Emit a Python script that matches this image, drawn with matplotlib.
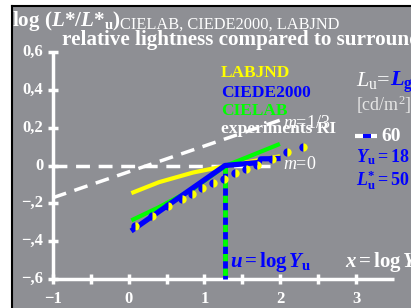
import numpy as np
import matplotlib
matplotlib.use('Agg')
import matplotlib.pyplot as plt

plt.rcParams['font.family'] = 'Liberation Serif'
plt.rcParams['mathtext.fontset'] = 'custom'
plt.rcParams['mathtext.rm'] = 'Liberation Serif'
plt.rcParams['mathtext.it'] = 'Liberation Serif:italic'
plt.rcParams['mathtext.bf'] = 'Liberation Serif:bold'
plt.rcParams['mathtext.bfit'] = 'Liberation Serif:italic:bold'

W, H = 411, 308
grey = '#8e8f94'
yel = '#ffff00'
blu = '#0000ff'
grn = '#00ff00'

# data
x_ticks = [-1, -0.5, 0, 0.5, 1, 1.5, 2, 2.5, 3]
x_labels = ['\u22121', '0', '1', '2', '3']
x_label_pos = [-1, 0, 1, 2, 3]
y_ticks = [-0.6, -0.4, -0.2, 0, 0.2, 0.4, 0.6]
y_labels = ['\u2212,6', '\u2212,4', '\u2212,2', '0', '0,2', '0,4', '0,6']

u_adapt = 1.27  # log Yu

x_labjnd = [0.06, 0.4, 0.85, 1.27, 1.6, 1.97]
y_labjnd = [-0.142, -0.088, -0.037, -0.003, 0.02, 0.047]

x_cielab = [0.06, 0.39, 0.84, 1.27, 1.6, 1.97]
y_cielab = [-0.285, -0.222, -0.127, -0.003, 0.05, 0.11]

x_ciede = [0.06, 1.27, 1.72, 1.74, 1.97]
y_ciede = [-0.338, 0.0, 0.016, 0.035, 0.037]

x_exp = [0.083, 0.307, 0.518, 0.703, 0.835, 0.967, 1.112, 1.257, 1.403, 1.548, 1.693, 1.891, 2.089, 2.300]
y_exp = [-0.322, -0.269, -0.216, -0.179, -0.148, -0.121, -0.090, -0.069, -0.042, -0.021, 0.005, 0.037, 0.069, 0.100]

x_m0 = [-1, 1.9]
y_m0 = [0, 0]
x_m13 = [-1, 2.0]
y_m13 = [-0.17, 0.24]

fig = plt.figure(figsize=(W / 100, H / 100), dpi=100)
fig.patch.set_facecolor('white')
ax = fig.add_axes([12 / W, 0, (W - 12) / W, (H - 6) / H])
ax.set_facecolor(grey)
ax.set_xlim(-1.541, 3.726)
ax.set_ylim(-0.753, 0.843)
ax.set_xticks([])
ax.set_yticks([])
for s in ['right', 'bottom']:
    ax.spines[s].set_visible(False)
for s in ['left', 'top']:
    ax.spines[s].set_color('black')
    ax.spines[s].set_linewidth(1.5)

# axes
ax.plot([-1, 3.5], [-0.6, -0.6], color='white', lw=2.5, solid_capstyle='butt')
ax.plot([-1, -1], [-0.6, 0.6], color='white', lw=2.5, solid_capstyle='butt')
for t in x_ticks:
    ax.plot([t, t], [-0.627, -0.573], color='white', lw=2.5, solid_capstyle='butt')
for t in y_ticks:
    ax.plot([-1.07, -0.93], [t, t], color='white', lw=2.5, solid_capstyle='butt')
for t, lab in zip(x_label_pos, x_labels):
    ax.text(t, -0.665, lab, color='white', fontsize=12, fontweight='bold',
            ha='center', va='top')
for t, lab in zip(y_ticks, y_labels):
    ax.text(-1.13, t, lab, color='white', fontsize=12, fontweight='bold',
            ha='right', va='center')

# reference lines
ax.plot(x_m0, y_m0, color='white', lw=2.5, dashes=(4, 2.5))
ax.plot(x_m13, y_m13, color='white', lw=2.5, dashes=(4, 2.5))

# vertical line at u
ax.plot([u_adapt, u_adapt], [0, -0.6], color=blu, lw=3.5, solid_capstyle='butt')
ax.plot([u_adapt, u_adapt], [0, -0.6], color=grn, lw=3.5, dashes=(1.5, 1.5))

ax.plot(x_labjnd, y_labjnd, color=yel, lw=3)
ax.plot(x_cielab, y_cielab, color=grn, lw=3)
ax.plot(x_ciede, y_ciede, color=blu, lw=3.8)
ax.plot(x_exp, y_exp, ls='none', marker='o', ms=6, mec='none',
        fillstyle='left', mfc=blu, mfcalt=yel)


def px(x, y):
    return x / W, 1 - y / H


# titles
fig.text(*px(12, 26), r'$\mathbf{log\ (}\mathbfit{L}\mathbf{*/}\mathbfit{L}\mathbf{*}_{\mathbf{u}}\mathbf{)}$',
         color='white', fontsize=15.2, ha='left', va='baseline')
fig.text(*px(120, 29), 'CIELAB, CIEDE2000, LABJND', color='white', fontsize=11.8,
         ha='left', va='baseline')
fig.text(*px(62, 45), 'relative lightness compared to surround', color='white',
         fontsize=15.2, fontweight='bold', ha='left', va='baseline')

# legend labels
fig.text(*px(221, 77), 'LABJND', color=yel, fontsize=12.5, fontweight='bold', va='baseline')
fig.text(*px(221, 97), 'CIEDE2000', color=blu, fontsize=12.5, fontweight='bold', va='baseline')
fig.text(*px(221, 115), 'CIELAB', color=grn, fontsize=12.5, fontweight='bold', va='baseline')
fig.text(*px(221, 133), 'experiments RI', color='white', fontsize=12.5, fontweight='bold', va='baseline')
fig.text(*px(283, 128), r'$\mathit{m}$=1/3', color='white', fontsize=13, va='baseline')
fig.text(*px(283, 169), r'$\mathit{m}$=0', color='white', fontsize=13, va='baseline')

# right side
fig.text(*px(356, 86), r'$\mathit{L}_{\mathrm{u}}$=', color='white', fontsize=16, va='baseline')
fig.text(*px(390, 86), r'$\mathbfit{L}_{\mathbf{g}}$', color=blu, fontsize=16, va='baseline')
fig.text(*px(356, 111), r'[cd/m$^2$]', color='#e6e6e6', fontsize=13, va='baseline')
fig.lines.append(plt.Line2D([355 / W, 377 / W], [1 - 136 / H] * 2, transform=fig.transFigure,
                            color='white', lw=3, solid_capstyle='butt'))
fig.lines.append(plt.Line2D([363 / W, 371 / W], [1 - 136 / H] * 2, transform=fig.transFigure,
                            color=blu, lw=3, solid_capstyle='butt'))
fig.text(*px(381, 141), '60', color='white', fontsize=14, fontweight='bold', va='baseline')
fig.text(*px(356, 162), r'$\mathbfit{Y}_{\mathbf{u}}\mathbf{=18}$', color=blu, fontsize=13, va='baseline')
fig.text(*px(356, 186), r'$\mathbfit{L}^{\mathbf{*}}_{\mathbf{u}}\mathbf{=50}$', color=blu, fontsize=13, va='baseline')

fig.text(*px(230, 267), r'$\mathbfit{u}\mathbf{=log\,}\mathbfit{Y}_{\mathbf{u}}$', color=blu, fontsize=15, va='baseline')
fig.text(*px(345, 267), r'$\mathbfit{x}\mathbf{=log\,}\mathbfit{Y}$', color='white', fontsize=15, va='baseline')

fig.savefig('out.png', dpi=100, facecolor=fig.get_facecolor())
